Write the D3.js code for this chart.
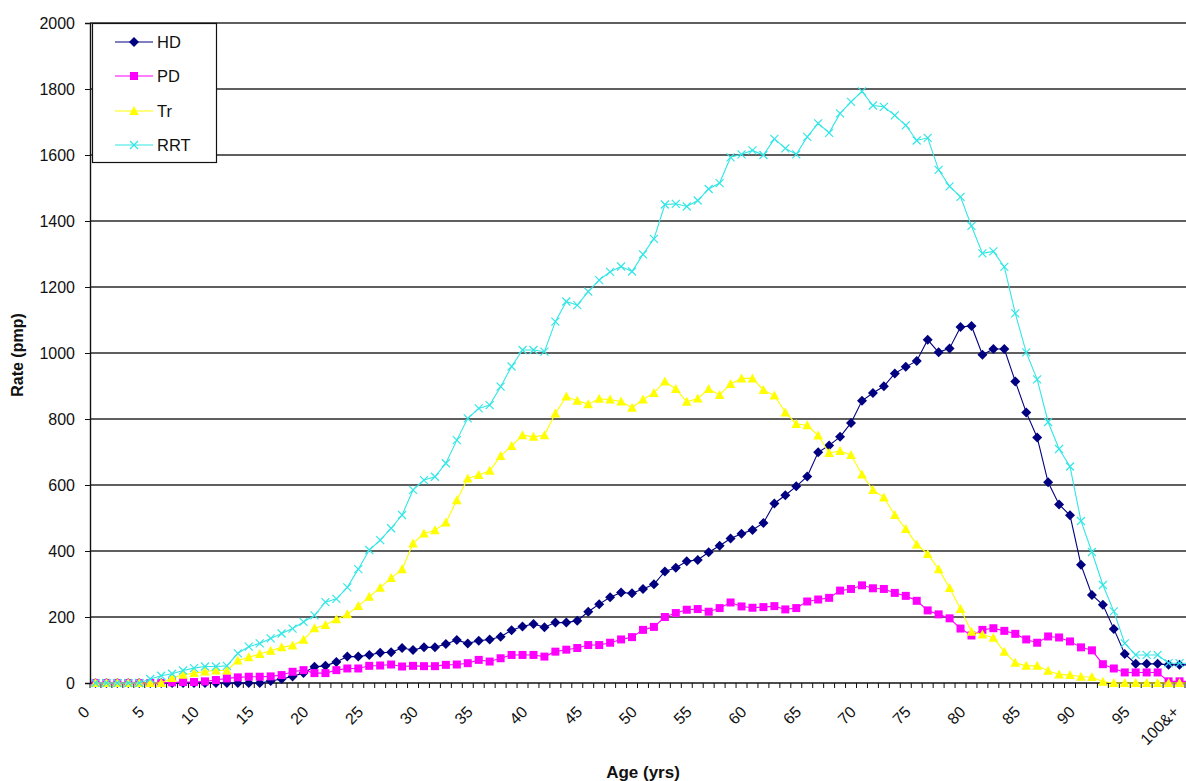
<!DOCTYPE html>
<html>
<head>
<meta charset="utf-8">
<title>RRT rate by age</title>
<script src="https://cdn.jsdelivr.net/npm/d3@7"></script>
<style>
    html, body { margin: 0; padding: 0; background: #fff; }
    #chart { width: 1186px; height: 781px; overflow: hidden; }
    text { font-family: "Liberation Sans", Arial, sans-serif; fill: #111; }
    .axis-title { font-weight: bold; }
</style>
</head>
<body>
<div id="chart"></div>
<script>
// ===== Data =====
const ages = d3.range(0, 101);
const ageLabels = ['0', '5', '10', '15', '20', '25', '30', '35', '40', '45', '50',
    '55', '60', '65', '70', '75', '80', '85', '90', '95', '100&+'];
const yTicks = [0, 200, 400, 600, 800, 1000, 1200, 1400, 1600, 1800, 2000];

const hdValues = [
    0, 0, 0, 0, 0, 0, 0, 0, 0, 0,
    0, 0, 0, 0, 0, 0, 6, 12, 20, 30,
    49, 52, 64, 80, 80, 85, 92, 93, 106, 100,
    108, 108, 118, 130, 120, 128, 132, 140, 160, 171,
    179, 169, 183, 183, 189, 216, 239, 260, 274, 272,
    285, 299, 338, 349, 369, 373, 396, 416, 438, 452,
    464, 485, 544, 569, 596, 626, 699, 720, 746, 788,
    855, 879, 899, 938, 958, 976, 1040, 1002, 1014, 1079,
    1082, 995, 1012, 1012, 914, 820, 744, 608, 541, 508,
    358, 267, 237, 164, 88, 58, 58, 58, 55, 55,
    55
];

const pdValues = [
    0, 0, 0, 0, 0, 0, 0, 2, 3, 3,
    5, 9, 14, 17, 19, 19, 20, 24, 34, 39,
    30, 30, 39, 44, 44, 52, 53, 56, 50, 52,
    51, 51, 55, 56, 60, 70, 65, 75, 85, 85,
    85, 80, 95, 101, 106, 115, 115, 122, 132, 139,
    161, 170, 200, 212, 222, 224, 216, 227, 244, 232,
    228, 230, 233, 223, 227, 247, 253, 258, 280, 285,
    296, 287, 285, 273, 264, 249, 220, 208, 196, 165,
    144, 161, 166, 158, 149, 132, 122, 141, 138, 126,
    108, 99, 57, 44, 32, 32, 32, 32, 5, 5,
    5
];

const trValues = [
    0, 0, 0, 0, 0, 0, 0, 15, 25, 30,
    35, 38, 38, 68, 78, 88, 98, 108, 114, 131,
    166, 176, 193, 208, 233, 261, 289, 318, 345, 423,
    453, 463, 486, 554, 620, 630, 643, 688, 718, 751,
    746, 751, 817, 868, 855, 845, 861, 859, 853, 834,
    859, 879, 914, 891, 852, 862, 891, 873, 906, 923,
    923, 888, 871, 820, 785, 781, 750, 697, 703, 691,
    632, 585, 562, 509, 467, 420, 391, 345, 288, 224,
    155, 147, 137, 95, 61, 52, 52, 37, 26, 24,
    19, 18, 4, 0, 0, 0, 0, 0, 0, 0,
    0
];

const rrtValues = [
    0, 0, 0, 0, 0, 12, 22, 28, 38, 45,
    50, 50, 52, 90, 110, 120, 135, 150, 165, 185,
    205, 245, 255, 290, 345, 403, 433, 469, 509, 585,
    615, 625, 666, 736, 802, 832, 842, 898, 959, 1009,
    1009, 1004, 1095, 1156, 1145, 1186, 1221, 1246, 1262, 1247,
    1299, 1346, 1450, 1452, 1444, 1462, 1497, 1515, 1593, 1602,
    1614, 1600, 1649, 1620, 1602, 1655, 1696, 1667, 1726, 1761,
    1793, 1750, 1746, 1720, 1690, 1644, 1652, 1555, 1505, 1473,
    1385, 1302, 1308, 1261, 1120, 1002, 920, 791, 709, 656,
    491, 397, 297, 217, 120, 85, 85, 85, 60, 60,
    60
];

const seriesNames = ['HD', 'PD', 'Tr', 'RRT'];

// ===== Configuration =====
const CONFIG = {
    width: 1186,
    height: 781,
    plot: { left: 90, top: 23, bottom: 683, band: 10.95 },
    colors: {
        HD: '#000080',
        PD: '#ff00ff',
        Tr: '#ffff00',
        RRT: '#33e6e6'
    },
    grid: '#2a2a2a'
};

const seriesValues = { HD: hdValues, PD: pdValues, Tr: trValues, RRT: rrtValues };

// ===== Marker paths =====
function markerPath(name) {
    if (name === 'HD') return 'M0,-5L5,0L0,5L-5,0Z';
    if (name === 'PD') return 'M-4,-4H4V4H-4Z';
    if (name === 'Tr') return 'M0,-5L4.8,4H-4.8Z';
    return 'M-4,-4L4,4M-4,4L4,-4';
}

function styleMarker(sel, name) {
    const color = CONFIG.colors[name];
    if (name === 'RRT') {
        sel.attr('fill', 'none').attr('stroke', color).attr('stroke-width', 1.2);
    } else {
        sel.attr('fill', color).attr('stroke', 'none');
    }
}

// ===== Chart =====
function drawChart() {
    const p = CONFIG.plot;
    const svg = d3.select('#chart').append('svg')
        .attr('width', CONFIG.width)
        .attr('height', CONFIG.height);

    const x = d3.scaleBand()
        .domain(ages)
        .range([p.left, p.left + p.band * ages.length])
        .padding(0);
    const cx = a => x(a) + x.bandwidth() / 2;

    const y = d3.scaleLinear()
        .domain([0, 2000])
        .range([p.bottom, p.top]);

    // Gridlines
    svg.append('g')
        .selectAll('line')
        .data(yTicks.filter(d => d > 0))
        .enter()
        .append('line')
        .attr('x1', p.left)
        .attr('x2', CONFIG.width)
        .attr('y1', d => y(d))
        .attr('y2', d => y(d))
        .attr('stroke', CONFIG.grid)
        .attr('stroke-width', 1.4);

    // Y axis
    const yAxis = svg.append('g')
        .attr('transform', `translate(${p.left},0)`)
        .call(d3.axisLeft(y).tickValues(yTicks).tickFormat(d3.format('d')).tickSize(5).tickPadding(10));
    yAxis.select('.domain').attr('stroke', '#111').attr('stroke-width', 1.4);
    yAxis.selectAll('.tick line').attr('stroke', '#111');
    yAxis.selectAll('text')
        .style('font-size', '16px')
        .style('font-family', '"Liberation Sans", Arial, sans-serif')
        .attr('fill', '#111');

    // X axis (ticks between categories)
    const xAxisG = svg.append('g');
    xAxisG.append('line')
        .attr('x1', p.left)
        .attr('x2', CONFIG.width)
        .attr('y1', p.bottom)
        .attr('y2', p.bottom)
        .attr('stroke', '#111')
        .attr('stroke-width', 1.4);
    xAxisG.selectAll('.xtick')
        .data(ages)
        .enter()
        .append('line')
        .attr('class', 'xtick')
        .attr('x1', d => x(d))
        .attr('x2', d => x(d))
        .attr('y1', p.bottom)
        .attr('y2', p.bottom + 5)
        .attr('stroke', '#111');
    xAxisG.selectAll('.xlabel')
        .data(ageLabels)
        .enter()
        .append('text')
        .attr('class', 'xlabel')
        .attr('transform', (d, i) => {
            const lx = Math.min(cx(i * 5) - 5, CONFIG.width - 6);
            return `translate(${lx},${p.bottom + 30}) rotate(-45)`;
        })
        .attr('text-anchor', 'end')
        .style('font-size', '16px')
        .text(d => d);

    // Series lines and markers
    seriesNames.forEach(name => {
        const values = seriesValues[name];
        const line = d3.line()
            .x((d, i) => cx(ages[i]))
            .y(d => y(d));
        svg.append('path')
            .datum(values)
            .attr('d', line)
            .attr('fill', 'none')
            .attr('stroke', CONFIG.colors[name])
            .attr('stroke-width', 1.1);

        svg.append('g')
            .selectAll('path')
            .data(values)
            .enter()
            .append('path')
            .attr('d', markerPath(name))
            .attr('transform', (d, i) => `translate(${cx(ages[i])},${y(d)})`)
            .call(styleMarker, name);
    });

    // Axis titles
    svg.append('text')
        .attr('class', 'axis-title')
        .attr('x', 643)
        .attr('y', 778)
        .attr('text-anchor', 'middle')
        .style('font-size', '17px')
        .text('Age (yrs)');

    svg.append('text')
        .attr('class', 'axis-title')
        .attr('transform', 'translate(23,355) rotate(-90)')
        .attr('text-anchor', 'middle')
        .style('font-size', '16px')
        .text('Rate (pmp)');

    drawLegend(svg);
}

// ===== Legend =====
function drawLegend(svg) {
    const legend = svg.append('g');
    legend.append('rect')
        .attr('x', 92.5)
        .attr('y', 23.5)
        .attr('width', 124)
        .attr('height', 139)
        .attr('fill', '#fff')
        .attr('stroke', '#111')
        .attr('stroke-width', 1.2);

    const rowY = [42, 76, 111, 145];
    seriesNames.forEach((name, i) => {
        const g = legend.append('g').attr('transform', `translate(0,${rowY[i]})`);
        g.append('line')
            .attr('x1', 115)
            .attr('x2', 153)
            .attr('stroke', CONFIG.colors[name])
            .attr('stroke-width', 1.1);
        g.append('path')
            .attr('d', markerPath(name))
            .attr('transform', 'translate(134,0)')
            .call(styleMarker, name);
        g.append('text')
            .attr('x', 157)
            .attr('dy', '0.36em')
            .style('font-size', '16.5px')
            .text(name);
    });
}

document.addEventListener('DOMContentLoaded', drawChart);
</script>
</body>
</html>
